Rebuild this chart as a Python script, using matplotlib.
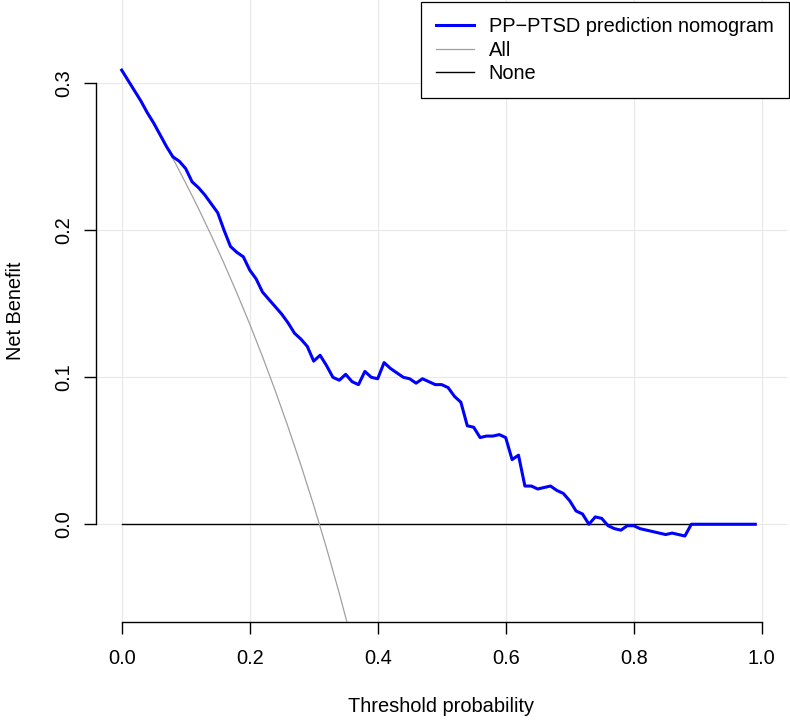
import matplotlib
matplotlib.use('Agg')
import matplotlib.pyplot as plt
import numpy as np

plt.rcParams['font.family'] = ['Liberation Sans', 'DejaVu Sans']

# decision curve at 0.01 steps of threshold
thresholds = np.round(np.arange(0, 1.0, 0.01), 2)
nb_model = [0.309, 0.302, 0.295, 0.288, 0.280, 0.273, 0.265, 0.257, 0.250, 0.247,
            0.242, 0.233, 0.229, 0.224, 0.218, 0.212, 0.200, 0.189, 0.185, 0.182,
            0.173, 0.167, 0.158, 0.153, 0.148, 0.143, 0.137, 0.130, 0.126, 0.121,
            0.111, 0.115, 0.108, 0.100, 0.098, 0.102, 0.097, 0.095, 0.104, 0.100,
            0.099, 0.110, 0.106, 0.103, 0.100, 0.099, 0.096, 0.099, 0.097, 0.095,
            0.095, 0.093, 0.087, 0.083, 0.067, 0.066, 0.059, 0.060, 0.060, 0.061,
            0.059, 0.044, 0.047, 0.026, 0.026, 0.024, 0.025, 0.026, 0.023, 0.021,
            0.016, 0.009, 0.007, 0.000, 0.005, 0.004, -0.001, -0.003, -0.004, -0.001,
            -0.001, -0.003, -0.004, -0.005, -0.006, -0.007, -0.006, -0.007, -0.008, 0.000,
            0.000, 0.000, 0.000, 0.000, 0.000, 0.000, 0.000, 0.000, 0.000, 0.000]

# treat-all curve (clipped at the bottom of the plot)
all_x = [0.00, 0.02, 0.04, 0.06, 0.08, 0.10, 0.12, 0.14, 0.16, 0.18,
         0.20, 0.22, 0.24, 0.26, 0.28, 0.30, 0.32, 0.34, 0.36]
nb_all = [0.309, 0.2949, 0.2802, 0.2649, 0.2489, 0.2322, 0.2148, 0.1965, 0.1774, 0.1573,
          0.1363, 0.1141, 0.0908, 0.0662, 0.0403, 0.0129, -0.0162, -0.0470, -0.0797]

none_x = [0.0, 0.99]
nb_none = [0.0, 0.0]

labels = ['PP\u2212PTSD prediction nomogram', 'All', 'None']
xticks = [0.0, 0.2, 0.4, 0.6, 0.8, 1.0]
yticks = [0.0, 0.1, 0.2, 0.3]

W, H = 790, 721
fig = plt.figure(figsize=(W / 100, H / 100), dpi=100)
ax = fig.add_axes([95.7 / W, 1 - 621.7 / H, (787.3 - 95.7) / W, 621.7 / H])

ax.plot(none_x, nb_none, color='black', lw=1.0, label=labels[2], zorder=2)
ax.plot(all_x, nb_all, color='#a0a0a0', lw=0.9, label=labels[1], zorder=3)
ax.plot(thresholds, nb_model, color='#0000ff', lw=2.2, label=labels[0], zorder=4)

ax.set_xlim(-0.0406, 1.040)
ax.set_ylim(-0.0663, 0.3567)
ax.set_xticks(xticks)
ax.set_yticks(yticks)
ax.set_xticklabels(['%.1f' % v for v in xticks])
ax.set_yticklabels(['%.1f' % v for v in yticks])
ax.grid(True, color='#e8e8e8', lw=0.8, zorder=0)
ax.set_axisbelow(True)

for s in ['top', 'right']:
    ax.spines[s].set_visible(False)
ax.spines['left'].set_bounds(0.0, 0.3)
ax.spines['bottom'].set_bounds(0.0, 1.0)
for s in ['left', 'bottom']:
    ax.spines[s].set_linewidth(1.0)

ax.tick_params(axis='both', direction='out', length=8.4, width=1.0, labelsize=14.4)
ax.tick_params(axis='x', pad=11)
ax.tick_params(axis='y', pad=8, labelrotation=90)
for t in ax.get_yticklabels():
    t.set_va('center')

ax.set_xlabel('Threshold probability', fontsize=14.4)
ax.set_ylabel('Net Benefit', fontsize=14.4)
ax.xaxis.set_label_coords(0.5, -0.121)
ax.yaxis.set_label_coords(-0.102, 0.5)

h, l = ax.get_legend_handles_labels()
leg = fig.legend(h[::-1], l[::-1], loc='upper right',
                 bbox_to_anchor=(788.5 / W, 1 - 1.7 / H),
                 fontsize=14.4, frameon=True, fancybox=False, framealpha=1,
                 edgecolor='black', handlelength=1.9, handletextpad=0.73,
                 borderpad=0.75, labelspacing=0.24, borderaxespad=0)
leg.get_frame().set_linewidth(0.9)

plt.savefig('out.png', dpi=100)
plt.close('all')
